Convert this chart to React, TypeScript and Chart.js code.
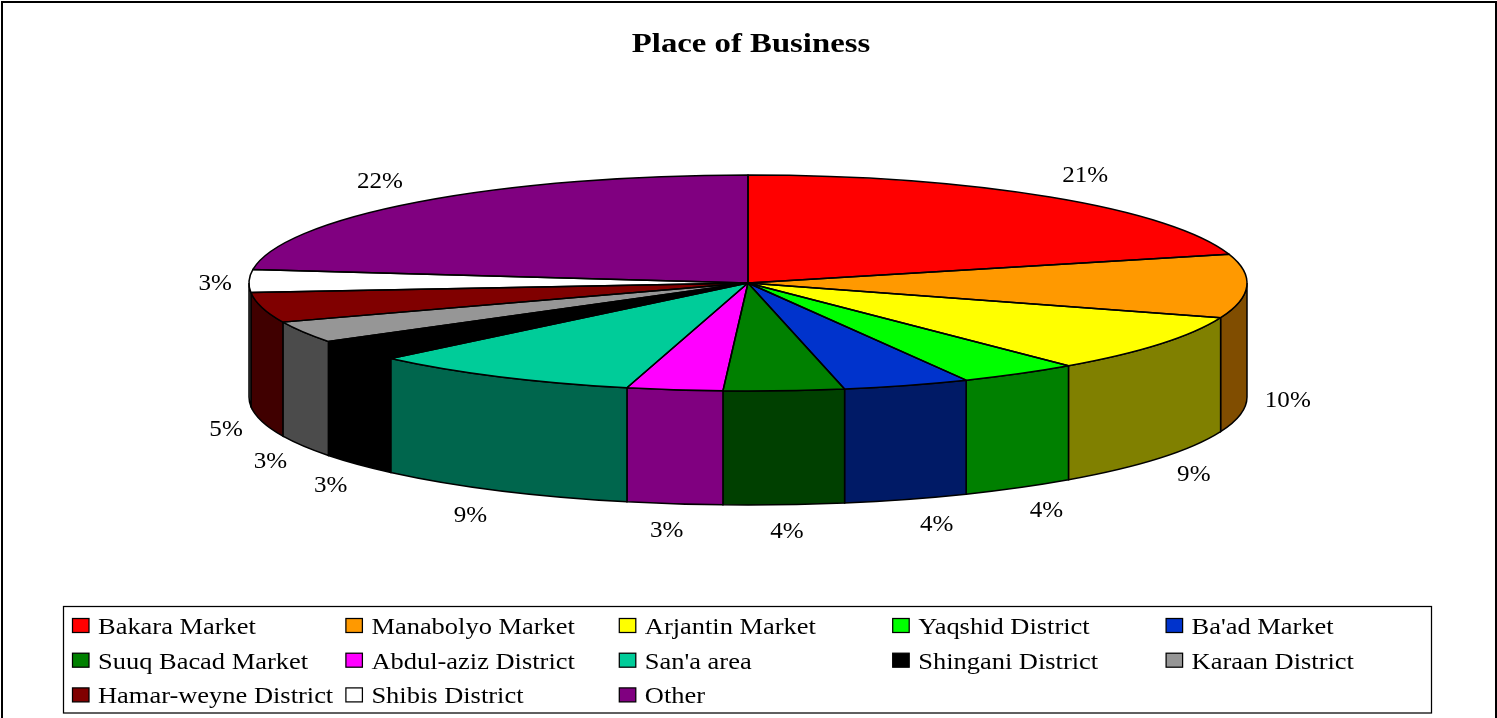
import React, { useEffect, useRef } from "react";
import { Chart, registerables } from "chart.js";

Chart.register(...registerables);

const categories = [
  "Bakara Market", "Manabolyo Market", "Arjantin Market", "Yaqshid District", "Ba'ad Market",
  "Suuq Bacad Market", "Abdul-aziz District", "San'a area", "Shingani District", "Karaan District",
  "Hamar-weyne District", "Shibis District", "Other",
];
const shares = [20.7, 9.5, 8.7, 3.9, 4.1, 3.9, 3.1, 8.8, 3.2, 3.2, 4.5, 3.4, 23.0];
// Percent labels as printed in the picture.
const percentLabels = ["21%", "10%", "9%", "4%", "4%", "4%", "3%", "9%", "3%", "3%", "5%", "3%", "22%"];
const sliceColors = [
  "#FF0000", "#FF9900", "#FFFF00", "#00FF00", "#0033CC", "#008000", "#FF00FF",
  "#00CC99", "#000000", "#969696", "#800000", "#FFFFFF", "#800080",
];
// Nudges of each percent label away from its rim point.
const labelNudges = [
  [35, -21], [41, 1], [34, 17], [27, 23], [30, 26], [3, 27], [-8, 27],
  [-29, 25], [-27, 22], [-33, 16], [-36, 8], [-34, 3], [-38, -20],
];

const W = 1497;
const H = 718;
const DEPTH_RATIO = 114 / 330;
const TITLE_STRETCH = 1.17;
const LEGEND_STRETCH = 1.15;
const LABEL_STRETCH = 1.09;
const INK = "#000000";
const FONT = '"Liberation Serif"';

const halve = (hex: string) => {
  const n = parseInt(hex.slice(1), 16);
  const c = [(n >> 16) & 255, (n >> 8) & 255, n & 255].map((v) => Math.round(v / 2));
  return `rgb(${c[0]},${c[1]},${c[2]})`;
};

const geometry = (chart: any) => {
  const a = chart.chartArea;
  const depth = (a.bottom - a.top) * DEPTH_RATIO;
  const rx = (a.right - a.left) / 2;
  const ry = (a.bottom - a.top - depth) / 2;
  return { cx: (a.left + a.right) / 2, cy: a.top + ry, rx, ry, depth };
};

const stretchedText = (ctx: CanvasRenderingContext2D, text: string, x: number, y: number, k: number) => {
  ctx.save();
  ctx.translate(x, y);
  ctx.scale(k, 1);
  ctx.fillText(text, 0, 0);
  ctx.restore();
};

const pie3d = {
  id: "pie3d",
  afterInit(chart: any) {
    const block = chart.titleBlock;
    const draw = block.draw.bind(block);
    block.draw = () => {
      const ctx = chart.ctx;
      const cx = (chart.chartArea.left + chart.chartArea.right) / 2;
      ctx.save();
      ctx.translate(cx + 3, 0);
      ctx.scale(TITLE_STRETCH, 1);
      ctx.translate(-cx, 0);
      draw();
      ctx.restore();
    };
  },
  beforeDraw(chart: any) {
    const ctx = chart.ctx;
    ctx.save();
    ctx.fillStyle = "#FFFFFF";
    ctx.fillRect(0, 0, W, H);
    ctx.strokeStyle = INK;
    ctx.lineWidth = 2;
    ctx.strokeRect(2, 2, W - 3, H + 6);
    ctx.restore();
  },
  beforeDatasetsDraw(chart: any) {
    const ctx = chart.ctx;
    const { cx, cy, rx, ry, depth } = geometry(chart);
    const arcs = chart.getDatasetMeta(0).data;
    ctx.save();
    ctx.lineWidth = 1.5;
    ctx.strokeStyle = INK;
    arcs.forEach((arc: any, i: number) => {
      const a0 = Math.max(arc.startAngle, 0);
      const a1 = Math.min(arc.endAngle, Math.PI);
      if (a1 <= a0) return;
      ctx.beginPath();
      ctx.ellipse(cx, cy, rx, ry, 0, a0, a1);
      ctx.ellipse(cx, cy + depth, rx, ry, 0, a1, a0, true);
      ctx.closePath();
      ctx.fillStyle = halve(sliceColors[i]);
      ctx.fill();
      ctx.stroke();
    });
    ctx.restore();
    const first = arcs[0];
    ctx.save();
    ctx.translate(cx, cy);
    ctx.scale(rx / first.outerRadius, ry / first.outerRadius);
    ctx.translate(-first.x, -first.y);
  },
  afterDatasetsDraw(chart: any) {
    const ctx = chart.ctx;
    ctx.restore();
    const { cx, cy, rx, ry, depth } = geometry(chart);
    const arcs = chart.getDatasetMeta(0).data;
    ctx.save();
    ctx.lineWidth = 1.5;
    ctx.strokeStyle = INK;
    ctx.lineJoin = "round";
    arcs.forEach((arc: any) => {
      ctx.beginPath();
      ctx.moveTo(cx, cy);
      ctx.ellipse(cx, cy, rx, ry, 0, arc.startAngle, arc.endAngle);
      ctx.closePath();
      ctx.stroke();
    });
    ctx.fillStyle = INK;
    ctx.font = `23px ${FONT}`;
    ctx.textAlign = "center";
    ctx.textBaseline = "middle";
    arcs.forEach((arc: any, i: number) => {
      const mid = (arc.startAngle + arc.endAngle) / 2;
      const lower = Math.sin(mid) > 0;
      const x = cx + rx * Math.cos(mid) + labelNudges[i][0];
      const y = cy + ry * Math.sin(mid) + (lower ? depth : 0) + labelNudges[i][1];
      stretchedText(ctx, percentLabels[i], x, y, LABEL_STRETCH);
    });
    ctx.restore();
  },
  afterDraw(chart: any) {
    const ctx = chart.ctx;
    const items = chart.legend.legendItems;
    const boxLeft = 63.5, boxTop = 606.5, boxRight = 1431.5, boxBottom = 713;
    const colStep = 273.4, rowStep = 34.7, perRow = 5;
    ctx.save();
    ctx.strokeStyle = INK;
    ctx.lineWidth = 1.25;
    ctx.strokeRect(boxLeft, boxTop, boxRight - boxLeft, boxBottom - boxTop);
    ctx.font = `23px ${FONT}`;
    ctx.textAlign = "left";
    ctx.textBaseline = "middle";
    items.forEach((item: any, i: number) => {
      const col = i % perRow;
      const row = Math.floor(i / perRow);
      const x = boxLeft + 9 + col * colStep;
      const y = boxTop + 19 + row * rowStep;
      ctx.fillStyle = item.fillStyle;
      ctx.fillRect(x, y - 7, 16.5, 14);
      ctx.strokeRect(x, y - 7, 16.5, 14);
      ctx.fillStyle = INK;
      stretchedText(ctx, item.text, x + 25.5, y + 2.5, LEGEND_STRETCH);
    });
    ctx.restore();
  },
};

export default function App() {
  const ref = useRef<HTMLCanvasElement>(null);
  useEffect(() => {
    const chart = new Chart(ref.current as HTMLCanvasElement, {
      type: "pie",
      data: {
        labels: categories,
        datasets: [
          { data: shares, backgroundColor: sliceColors, borderWidth: 0, clip: false } as any,
        ],
      },
      options: {
        animation: false,
        responsive: false,
        layout: { padding: { left: 249, right: 250, top: 0, bottom: 213 } },
        plugins: {
          legend: { display: false },
          tooltip: { enabled: false },
          title: {
            display: true,
            text: "Place of Business",
            color: INK,
            font: { family: FONT, size: 28, weight: "bold", lineHeight: 1.2 },
            padding: { top: 27.5, bottom: 113.9 },
          },
        },
      },
      plugins: [pie3d],
    } as any);
    return () => chart.destroy();
  }, []);
  return (
    <canvas
      ref={ref}
      width={W}
      height={H}
      style={{ position: "absolute", left: 0, top: 0, display: "block" }}
    />
  );
}
